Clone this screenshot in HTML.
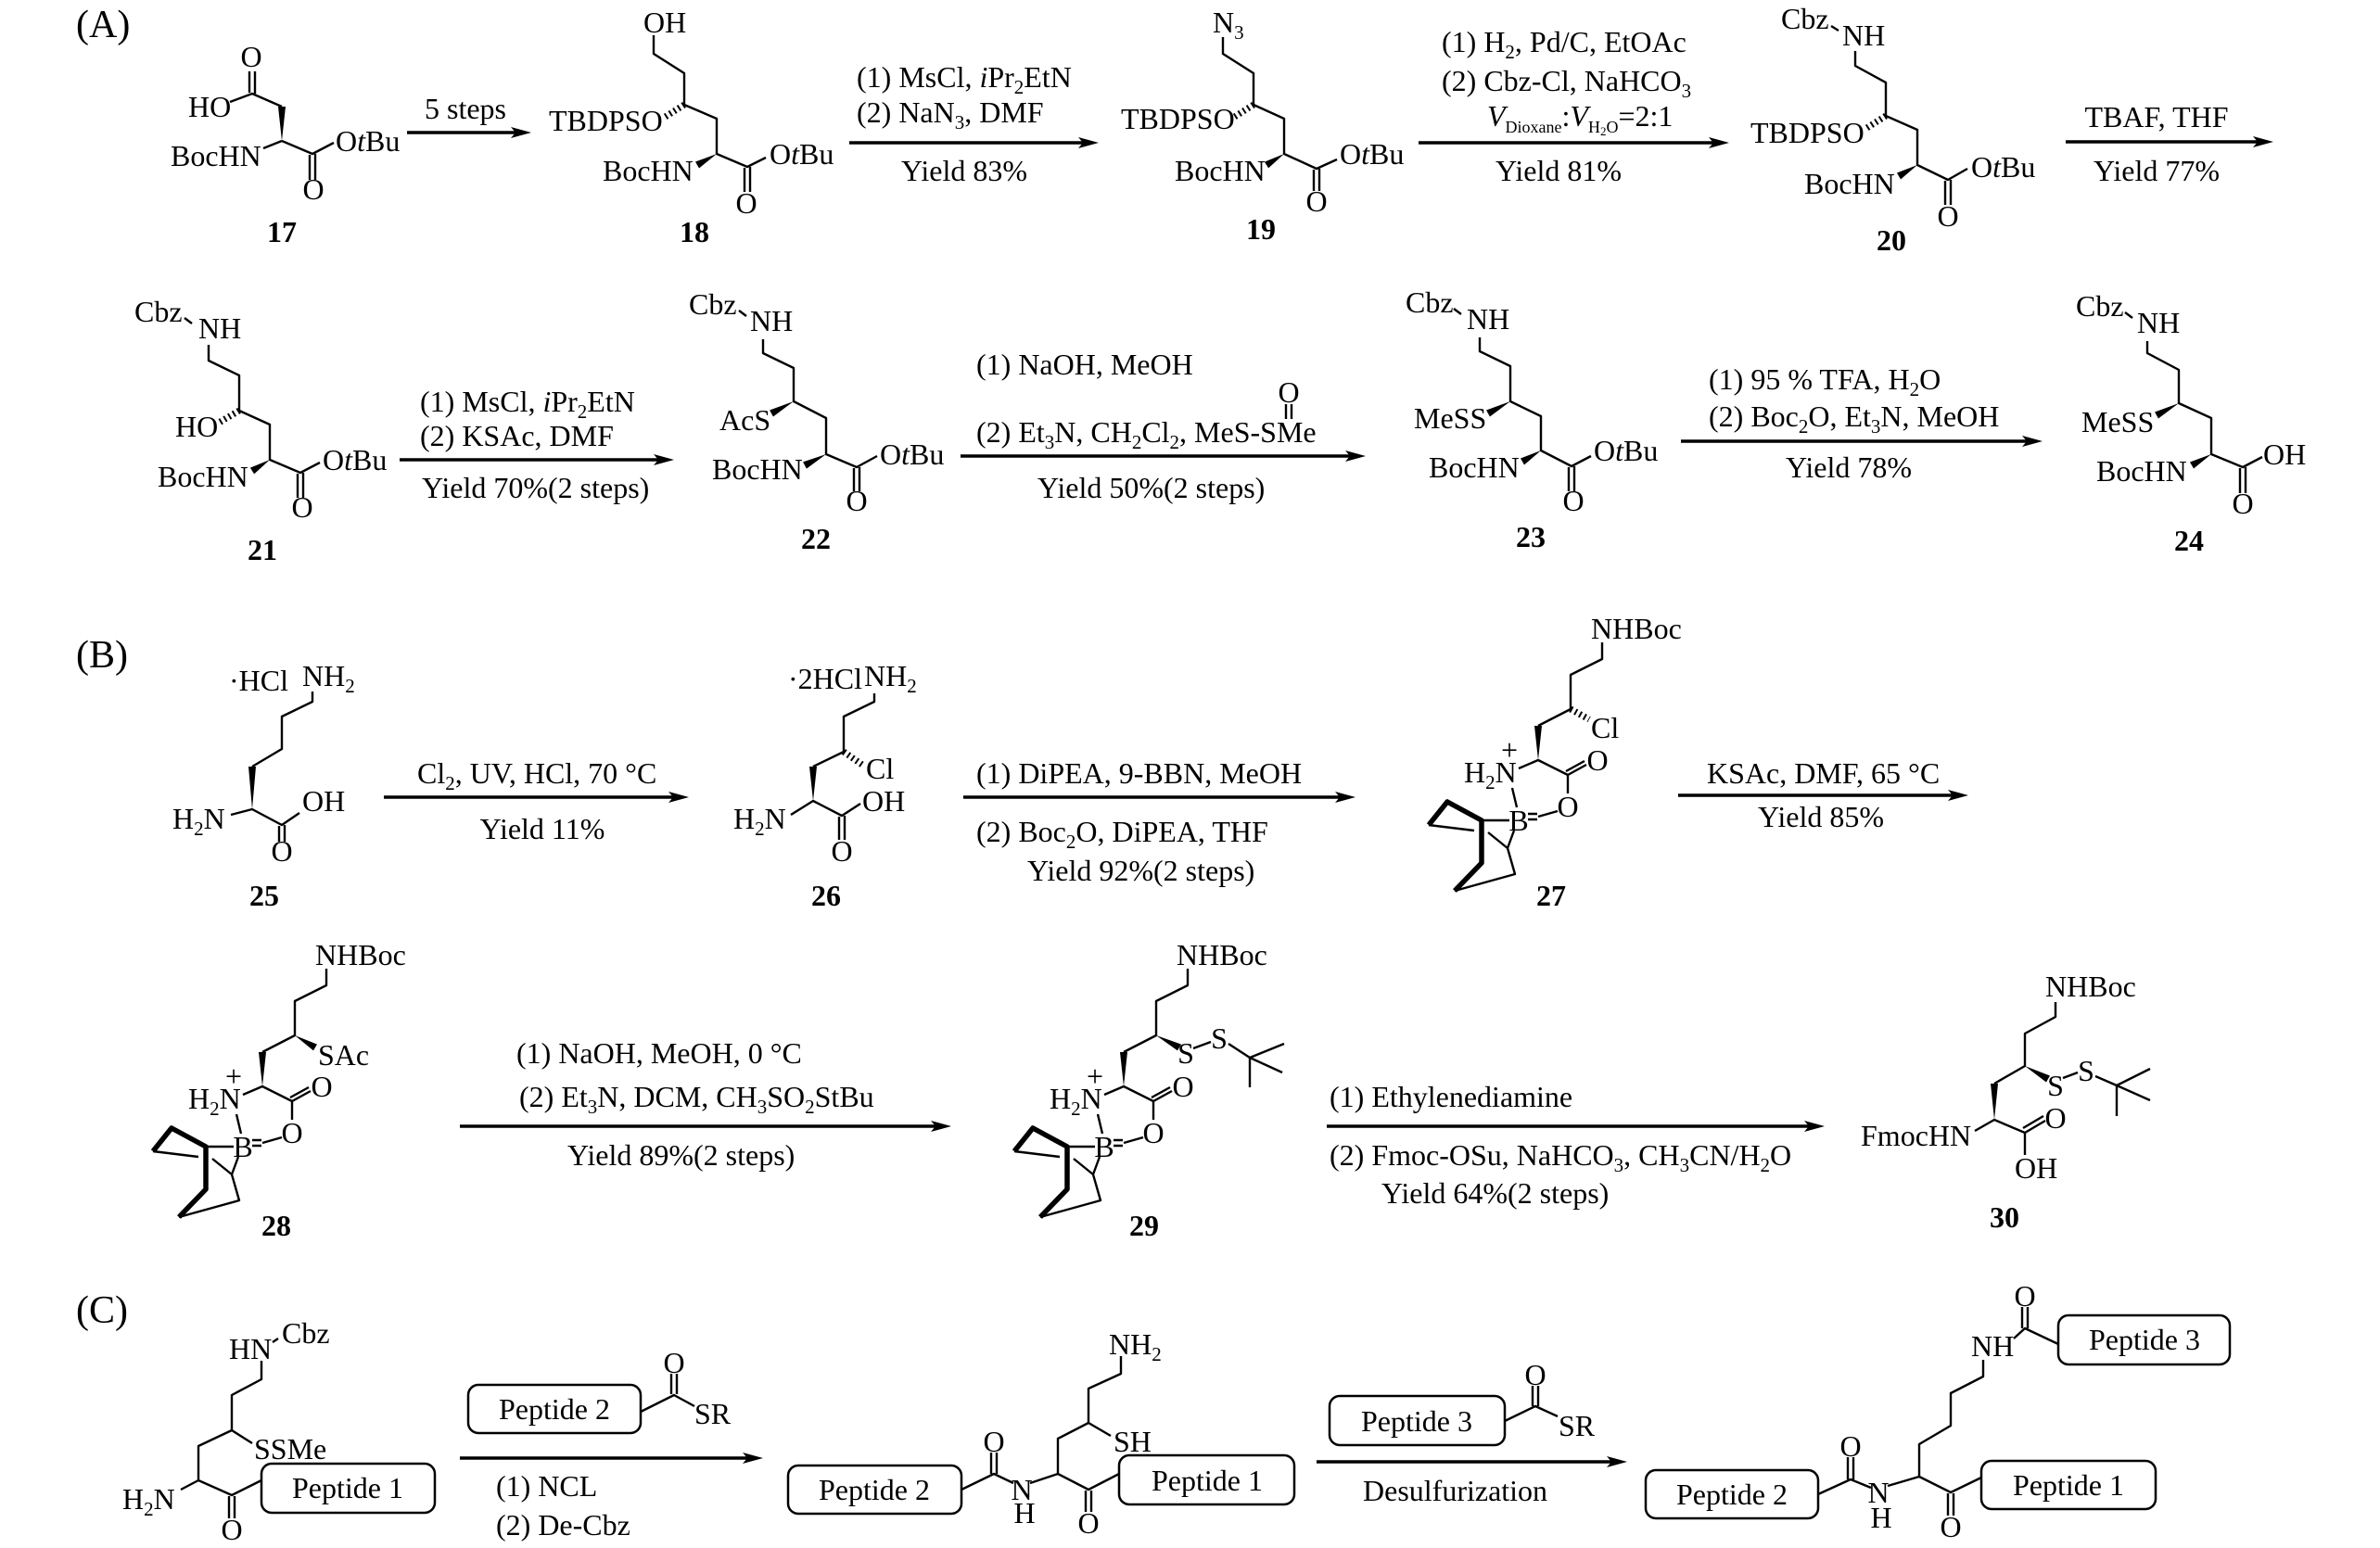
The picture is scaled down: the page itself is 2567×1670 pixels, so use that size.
<!DOCTYPE html>
<html><head><meta charset="utf-8"><style>
html,body{margin:0;padding:0;background:#fff}
svg{display:block}
text{font-family:"Liberation Serif","Times New Roman",serif;font-size:32px;fill:#000}
.m{text-anchor:middle}
.n{font-weight:bold;font-size:32px;text-anchor:middle}
.L{font-size:42px}
.i{font-style:italic}
path,line{stroke:#000;stroke-width:2.4;fill:none;stroke-linejoin:round}
.bb{stroke-width:5.5}
.ar{stroke-width:3.6}
.h{stroke-width:7;stroke-dasharray:2 3.5}
rect{fill:none;stroke:#000;stroke-width:2.5}
polygon{fill:#000;stroke:none}
</style></head><body>
<svg width="2567" height="1670" viewBox="0 0 2567 1670" xmlns="http://www.w3.org/2000/svg">
<rect x="0" y="0" width="2567" height="1670" style="fill:#fff;stroke:none"/>

<!-- section labels -->
<text class="L" x="82" y="40">(A)</text>
<text class="L" x="82" y="720">(B)</text>
<text class="L" x="82" y="1427">(C)</text>

<!-- arrows -->
<path class="ar" d="M439 143H556M916 154H1168M1530 154H1848M2228 153H2435M431 496H710M1036 492H1456M1813 476H2186M414 860H726M1039 860H1445M1810 858H2106M496 1215H1009M1431 1215H1951M496 1573H806M1420 1577H1738"/>
<polygon points="573,143 551,137 556,143 551,149"/>
<polygon points="1185,154 1163,148 1168,154 1163,160"/>
<polygon points="1865,154 1843,148 1848,154 1843,160"/>
<polygon points="2452,153 2430,147 2435,153 2430,159"/>
<polygon points="727,496 705,490 710,496 705,502"/>
<polygon points="1473,492 1451,486 1456,492 1451,498"/>
<polygon points="2203,476 2181,470 2186,476 2181,482"/>
<polygon points="743,860 721,854 726,860 721,866"/>
<polygon points="1462,860 1440,854 1445,860 1440,866"/>
<polygon points="2123,858 2101,852 2106,858 2101,864"/>
<polygon points="1026,1215 1004,1209 1009,1215 1004,1221"/>
<polygon points="1968,1215 1946,1209 1951,1215 1946,1221"/>
<polygon points="823,1573 801,1567 806,1573 801,1579"/>
<polygon points="1755,1577 1733,1571 1738,1577 1733,1583"/>

<!-- ===== Row A1 ===== -->
<!-- 17 -->
<path d="M248 110L272 101L304 115M304 152L337 166L360 154M284 160L304 152M269 77V100M275 77V101M334 167V194M340 166V194"/>
<polygon points="304,152 300,115 308,115"/>
<text class="m" x="271" y="72">O</text>
<text x="203" y="126">HO</text>
<text x="184" y="179">BocHN</text>
<text x="362" y="163">O<tspan class="i">t</tspan>Bu</text>
<text class="m" x="338" y="215">O</text>
<text class="n" x="304" y="261">17</text>
<text class="m" x="502" y="128">5 steps</text>

<!-- 18 -->
<path d="M705 38V58L738 79V113L773 128V166L806 180L826 170M803 181V207M809 180V207"/>
<path class="h" d="M738 113L716 127"/>
<polygon points="773,166 750,174.5 754,181.5"/>
<text x="694" y="35">OH</text>
<text x="592" y="141">TBDPSO</text>
<text x="650" y="195">BocHN</text>
<text x="830" y="177">O<tspan class="i">t</tspan>Bu</text>
<text class="m" x="805" y="230">O</text>
<text class="n" x="749" y="261">18</text>

<text x="924" y="94">(1) MsCl, <tspan class="i">i</tspan>Pr<tspan dy="7" font-size="21">2</tspan><tspan dy="-7">EtN</tspan></text>
<text x="924" y="132">(2) NaN<tspan dy="7" font-size="21">3</tspan><tspan dy="-7">, DMF</tspan></text>
<text class="m" x="1040" y="195">Yield 83%</text>

<!-- 19 -->
<path d="M1319 40V58L1352 79V113L1385 128V166L1420 182L1442 172M1417 183V206M1423 182V206"/>
<path class="h" d="M1352 113L1330 127"/>
<polygon points="1385,166 1363.9,174.6 1368.1,181.4"/>
<text x="1308" y="35">N<tspan dy="7" font-size="21">3</tspan></text>
<text x="1209" y="139">TBDPSO</text>
<text x="1267" y="195">BocHN</text>
<text x="1445" y="177">O<tspan class="i">t</tspan>Bu</text>
<text class="m" x="1420" y="228">O</text>
<text class="n" x="1360" y="258">19</text>

<text x="1555" y="56">(1) H<tspan dy="7" font-size="21">2</tspan><tspan dy="-7">, Pd/C, EtOAc</tspan></text>
<text x="1555" y="98">(2) Cbz-Cl, NaHCO<tspan dy="7" font-size="21">3</tspan></text>
<text x="1604" y="136"><tspan class="i">V</tspan><tspan dy="7" font-size="18">Dioxane</tspan><tspan dy="-7">:</tspan><tspan class="i">V</tspan><tspan dy="7" font-size="18">H</tspan><tspan dy="3" font-size="13">2</tspan><tspan dy="-3" font-size="18">O</tspan><tspan dy="-7">=2:1</tspan></text>
<text class="m" x="1681" y="195">Yield 81%</text>

<!-- 20 -->
<path d="M2001 55V71L2034 89V125L2068 140V178L2101 194L2122 182M2098 195V221M2104 194V221M1975 28L1983 33"/>
<path class="h" d="M2034 125L2012 139"/>
<polygon points="2068,178 2046,186.5 2050,193.5"/>
<text x="1921" y="31">Cbz</text>
<text x="1987" y="49">NH</text>
<text x="1888" y="154">TBDPSO</text>
<text x="1946" y="209">BocHN</text>
<text x="2126" y="191">O<tspan class="i">t</tspan>Bu</text>
<text class="m" x="2101" y="244">O</text>
<text class="n" x="2040" y="270">20</text>

<text class="m" x="2326" y="137">TBAF, THF</text>
<text class="m" x="2326" y="195">Yield 77%</text>

<!-- ===== Row A2 ===== -->
<!-- 21 -->
<path d="M225 372V389L258 405V443L291 458V496L324 510L345 499M321 511V537M327 510V537M199 343L207 349"/>
<path class="h" d="M258 443L236 456"/>
<polygon points="291,496 269.9,504.6 274.1,511.4"/>
<text x="145" y="347">Cbz</text>
<text x="214" y="365">NH</text>
<text x="189" y="471">HO</text>
<text x="170" y="525">BocHN</text>
<text x="348" y="507">O<tspan class="i">t</tspan>Bu</text>
<text class="m" x="326" y="558">O</text>
<text class="n" x="283" y="604">21</text>

<text x="453" y="444">(1) MsCl, <tspan class="i">i</tspan>Pr<tspan dy="7" font-size="21">2</tspan><tspan dy="-7">EtN</tspan></text>
<text x="453" y="481">(2) KSAc, DMF</text>
<text x="455" y="537">Yield 70%(2 steps)</text>

<!-- 22 -->
<path d="M823 366V381L856 397V433L891 451V490L924 504L946 492M921 505V530M927 504V530M797 335L805 341"/>
<polygon points="856,433 830.1,442.5 833.9,449.5"/>
<polygon points="891,490 866.1,498.4 869.9,505.6"/>
<text x="743" y="339">Cbz</text>
<text x="809" y="357">NH</text>
<text x="776" y="464">AcS</text>
<text x="768" y="517">BocHN</text>
<text x="949" y="501">O<tspan class="i">t</tspan>Bu</text>
<text class="m" x="924" y="551">O</text>
<text class="n" x="880" y="592">22</text>

<text x="1053" y="404">(1) NaOH, MeOH</text>
<text x="1053" y="477">(2) Et<tspan dy="7" font-size="21">3</tspan><tspan dy="-7">N, CH</tspan><tspan dy="7" font-size="21">2</tspan><tspan dy="-7">Cl</tspan><tspan dy="7" font-size="21">2</tspan><tspan dy="-7">, MeS-SMe</tspan></text>
<path d="M1387 436V452M1393 436V452"/>
<text class="m" x="1390" y="434">O</text>
<text x="1119" y="537">Yield 50%(2 steps)</text>

<!-- 23 -->
<path d="M1596 364V379L1629 395V433L1662 449V486L1695 503L1716 492M1692 504V530M1698 503V530M1568 333L1576 339"/>
<polygon points="1629,433 1603.1,442.5 1606.9,449.5"/>
<polygon points="1662,486 1640,494.5 1644,501.5"/>
<text x="1516" y="337">Cbz</text>
<text x="1582" y="355">NH</text>
<text x="1525" y="462">MeSS</text>
<text x="1541" y="515">BocHN</text>
<text x="1719" y="497">O<tspan class="i">t</tspan>Bu</text>
<text class="m" x="1697" y="551">O</text>
<text class="n" x="1651" y="590">23</text>

<text x="1843" y="420">(1) 95 % TFA, H<tspan dy="7" font-size="21">2</tspan><tspan dy="-7">O</tspan></text>
<text x="1843" y="460">(2) Boc<tspan dy="7" font-size="21">2</tspan><tspan dy="-7">O, Et</tspan><tspan dy="7" font-size="21">3</tspan><tspan dy="-7">N, MeOH</tspan></text>
<text class="m" x="1994" y="515">Yield 78%</text>

<!-- 24 -->
<path d="M2316 368V381L2350 399V435L2385 451V490L2419 504L2440 493M2416 505V532M2422 504V532M2292 337L2300 343"/>
<polygon points="2350,435 2324.1,444.5 2327.9,451.5"/>
<polygon points="2385,490 2362,498.5 2366,505.5"/>
<text x="2239" y="341">Cbz</text>
<text x="2305" y="359">NH</text>
<text x="2245" y="466">MeSS</text>
<text x="2261" y="519">BocHN</text>
<text x="2441" y="501">OH</text>
<text class="m" x="2419" y="554">O</text>
<text class="n" x="2361" y="594">24</text>

<!-- ===== Row B1 ===== -->
<!-- 25 -->
<path d="M337 746V757L304 773V808L272 827M249 879L272 873L304 890L323 877M301 891V908M307 890V908"/>
<polygon points="272,873 268,827 276,827"/>
<text x="247" y="745">·HCl</text>
<text x="326" y="740">NH<tspan dy="7" font-size="21">2</tspan></text>
<text x="186" y="894">H<tspan dy="7" font-size="21">2</tspan><tspan dy="-7">N</tspan></text>
<text x="326" y="875">OH</text>
<text class="m" x="304" y="929">O</text>
<text class="n" x="285" y="977">25</text>

<text x="450" y="845">Cl<tspan dy="7" font-size="21">2</tspan><tspan dy="-7">, UV, HCl, 70 °C</tspan></text>
<text class="m" x="585" y="905">Yield 11%</text>

<!-- 26 -->
<path d="M943 748V757L910 773V811L877 827M853 879L877 864L908 880L928 867M905 881V906M911 880V906"/>
<path class="h" d="M910 811L930 825"/>
<polygon points="877,864 873,827 881,827"/>
<text x="850" y="743">·2HCl</text>
<text x="932" y="740">NH<tspan dy="7" font-size="21">2</tspan></text>
<text x="934" y="840">Cl</text>
<text x="791" y="894">H<tspan dy="7" font-size="21">2</tspan><tspan dy="-7">N</tspan></text>
<text x="930" y="875">OH</text>
<text class="m" x="908" y="929">O</text>
<text class="n" x="891" y="977">26</text>

<text x="1053" y="845">(1) DiPEA, 9-BBN, MeOH</text>
<text x="1053" y="908">(2) Boc<tspan dy="7" font-size="21">2</tspan><tspan dy="-7">O, DiPEA, THF</tspan></text>
<text x="1108" y="950">Yield 92%(2 steps)</text>

<!-- boronate skeleton definition -->
<defs>
<g id="bbn">
<path d="M352 1045V1063L318 1080V1117L283 1135M262 1181L283 1172L315 1188L335 1177M313 1184L333 1173M315 1188V1208M255 1202L260 1223M272 1230H282M272 1236H282M283 1233L304 1227M222 1237H252M165 1242L214 1248M229 1250L250 1267L257 1248M250 1267L258 1295L193 1313"/>
<path class="bb" d="M165 1242L185 1217L222 1237V1283L193 1313"/>
<polygon points="283,1172 279,1135 287,1135"/>
<text x="340" y="1041">NHBoc</text>
<text x="203" y="1196">H<tspan dy="7" font-size="21">2</tspan><tspan dy="-7">N</tspan></text>
<text class="m" x="252" y="1172" font-size="24">+</text>
<text class="m" x="347" y="1183">O</text>
<text class="m" x="315" y="1233">O</text>
<text class="m" x="262" y="1248">B</text>
</g>
</defs>

<!-- 27 -->
<use href="#bbn" transform="translate(1376,-352)"/>
<path class="h" d="M1694 765L1714 776"/>
<text x="1716" y="796">Cl</text>
<text class="n" x="1673" y="977">27</text>

<text x="1841" y="845">KSAc, DMF, 65 °C</text>
<text class="m" x="1964" y="892">Yield 85%</text>

<!-- ===== Row B2 ===== -->
<!-- 28 -->
<use href="#bbn"/>
<polygon points="318,1117 338,1133.4 342,1126.6"/>
<text x="343" y="1149">SAc</text>
<text class="n" x="298" y="1333">28</text>

<text x="557" y="1147">(1) NaOH, MeOH, 0 °C</text>
<text x="560" y="1194">(2) Et<tspan dy="7" font-size="21">3</tspan><tspan dy="-7">N, DCM, CH</tspan><tspan dy="7" font-size="21">3</tspan><tspan dy="-7">SO</tspan><tspan dy="7" font-size="21">2</tspan><tspan dy="-7">StBu</tspan></text>
<text x="612" y="1257">Yield 89%(2 steps)</text>

<!-- 29 -->
<use href="#bbn" transform="translate(929,0)"/>
<polygon points="1247,1117 1270,1133.4 1274,1126.6"/>
<path d="M1287 1131L1306 1124M1325 1126L1348 1141L1385 1126M1348 1141L1383 1157M1348 1141V1173"/>
<text class="m" x="1279" y="1147">S</text>
<text class="m" x="1315" y="1131">S</text>
<text class="n" x="1234" y="1333">29</text>

<text x="1434" y="1194">(1) Ethylenediamine</text>
<text x="1434" y="1257">(2) Fmoc-OSu, NaHCO<tspan dy="7" font-size="21">3</tspan><tspan dy="-7">, CH</tspan><tspan dy="7" font-size="21">3</tspan><tspan dy="-7">CN/H</tspan><tspan dy="7" font-size="21">2</tspan><tspan dy="-7">O</tspan></text>
<text x="1490" y="1298">Yield 64%(2 steps)</text>

<!-- 30 -->
<path d="M2217 1081V1097L2184 1115V1150L2151 1169M2130 1220L2151 1208L2184 1222L2206 1209M2182 1217L2204 1204M2184 1222V1246M2225 1163L2241 1157M2260 1161L2283 1171L2319 1153M2283 1171L2319 1187M2283 1171V1204"/>
<polygon points="2184,1150 2207,1167.5 2211,1160.5"/>
<polygon points="2151,1208 2147,1169 2155,1169"/>
<text x="2206" y="1075">NHBoc</text>
<text class="m" x="2217" y="1182">S</text>
<text class="m" x="2250" y="1166">S</text>
<text x="2007" y="1236">FmocHN</text>
<text class="m" x="2217" y="1217">O</text>
<text x="2173" y="1271">OH</text>
<text class="n" x="2162" y="1324">30</text>

<!-- ===== Row C ===== -->
<!-- C1 -->
<path d="M282 1468V1488L250 1505V1543L272 1557M250 1543L214 1560V1597L195 1607M214 1597L250 1613L282 1597M247 1614V1638M253 1614V1638M294 1448L300 1444"/>
<text x="247" y="1466">HN</text>
<text x="304" y="1449">Cbz</text>
<text x="274" y="1574">SSMe</text>
<text x="132" y="1628">H<tspan dy="7" font-size="21">2</tspan><tspan dy="-7">N</tspan></text>
<text class="m" x="250" y="1661">O</text>
<rect x="282" y="1579" width="187" height="53" rx="11"/>
<text class="m" x="375" y="1616">Peptide 1</text>

<rect x="505" y="1494" width="186" height="52" rx="11"/>
<text class="m" x="598" y="1531">Peptide 2</text>
<path d="M691 1523L727 1505L749 1517M724 1504V1482M730 1504V1482"/>
<text class="m" x="727" y="1481">O</text>
<text x="749" y="1536">SR</text>
<text x="535" y="1614">(1) NCL</text>
<text x="535" y="1656">(2) De-Cbz</text>

<!-- C2 -->
<rect x="850" y="1581" width="187" height="52" rx="11"/>
<text class="m" x="943" y="1618">Peptide 2</text>
<path d="M1037 1607L1072 1590L1093 1600M1069 1590V1567M1075 1590V1567M1111 1600L1141 1590V1552L1174 1535V1498L1209 1482V1463M1174 1535L1198 1549M1141 1590L1174 1607L1207 1590M1171 1608V1631M1177 1608V1631"/>
<text class="m" x="1072" y="1566">O</text>
<text class="m" x="1102" y="1618">N</text>
<text class="m" x="1105" y="1643">H</text>
<text x="1201" y="1566">SH</text>
<text x="1196" y="1461">NH<tspan dy="7" font-size="21">2</tspan></text>
<text class="m" x="1174" y="1654">O</text>
<rect x="1207" y="1570" width="189" height="53" rx="11"/>
<text class="m" x="1302" y="1608">Peptide 1</text>

<rect x="1434" y="1506" width="189" height="53" rx="11"/>
<text class="m" x="1528" y="1544">Peptide 3</text>
<path d="M1623 1533L1656 1517L1680 1528M1653 1517V1495M1659 1517V1495"/>
<text class="m" x="1656" y="1494">O</text>
<text x="1681" y="1549">SR</text>
<text x="1470" y="1619">Desulfurization</text>

<!-- C3 -->
<rect x="1775" y="1586" width="186" height="52" rx="11"/>
<text class="m" x="1868" y="1623">Peptide 2</text>
<path d="M1961 1612L1996 1596L2018 1605M1993 1596V1572M1999 1596V1572M2036 1603L2070 1593L2104 1610L2137 1594M2101 1611V1635M2107 1611V1635M2070 1593V1558L2104 1538V1503L2139 1485V1467M2172 1444L2184 1433L2220 1450M2181 1433V1410M2187 1433V1410"/>
<text class="m" x="1996" y="1571">O</text>
<text class="m" x="2026" y="1621">N</text>
<text class="m" x="2029" y="1648">H</text>
<text class="m" x="2104" y="1658">O</text>
<text x="2126" y="1463">NH</text>
<text class="m" x="2184" y="1409">O</text>
<rect x="2137" y="1576" width="188" height="52" rx="11"/>
<text class="m" x="2231" y="1613">Peptide 1</text>
<rect x="2220" y="1419" width="185" height="53" rx="11"/>
<text class="m" x="2313" y="1456">Peptide 3</text>
</svg>
</body></html>
